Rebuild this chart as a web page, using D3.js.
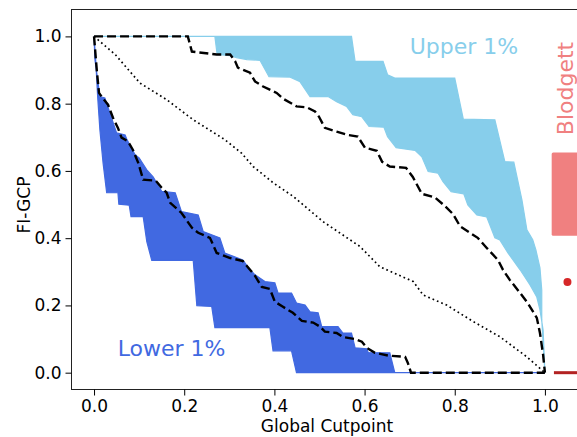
<!DOCTYPE html>
<html lang="en">
<head>
  <meta charset="UTF-8">
  <title>FI-GCP vs Global Cutpoint</title>
  <script src="https://d3js.org/d3.v7.min.js"></script>
  <style>
    body { margin: 0; background: #fff; }
    text { font-family: "DejaVu Sans", sans-serif; }
    .tick text { font-size: 17px; fill: #000; }
    .tick line { stroke: #000; }
    .domain { display: none; }
  </style>
</head>
<body>
<svg id="chart" width="577" height="437"></svg>
<script>
  // upper 1% band (skyblue): top edge and bottom edge, [cutpoint, FI-GCP]
  const upperBandTop = [
    [0, 1], [0.571, 1], [0.579, 0.926], [0.641, 0.926], [0.651, 0.886], [0.667, 0.876],
    [0.800, 0.876], [0.819, 0.754], [0.889, 0.752], [0.911, 0.628], [0.931, 0.626],
    [0.949, 0.514], [0.960, 0.425], [0.973, 0.395], [0.980, 0.365], [0.989, 0.312],
    [0.993, 0.246], [0.993, 0.157], [1, 0]
  ];
  const upperBandBottom = [
    [0, 1], [0.268, 1], [0.273, 0.946], [0.302, 0.943], [0.316, 0.937], [0.339, 0.931],
    [0.368, 0.929], [0.388, 0.880], [0.435, 0.879], [0.457, 0.865], [0.479, 0.821],
    [0.519, 0.821], [0.538, 0.806], [0.560, 0.792], [0.574, 0.767], [0.594, 0.761],
    [0.610, 0.732], [0.643, 0.730], [0.651, 0.702], [0.670, 0.669], [0.712, 0.661],
    [0.727, 0.642], [0.741, 0.598], [0.763, 0.593], [0.774, 0.568], [0.792, 0.538],
    [0.820, 0.532], [0.829, 0.499], [0.849, 0.469], [0.871, 0.463], [0.889, 0.401],
    [0.900, 0.395], [0.918, 0.356], [0.945, 0.306], [0.967, 0.261], [0.982, 0.225],
    [0.989, 0.187], [0.996, 0.127], [1, 0]
  ];

  // lower 1% band (royalblue)
  const lowerBandTop = [
    [0, 1], [0.002, 0.931], [0.013, 0.821], [0.024, 0.817], [0.050, 0.713], [0.069, 0.707],
    [0.073, 0.693], [0.091, 0.648], [0.100, 0.639], [0.117, 0.603], [0.131, 0.582],
    [0.150, 0.539], [0.180, 0.535], [0.194, 0.479], [0.231, 0.469], [0.242, 0.420],
    [0.279, 0.401], [0.290, 0.356], [0.330, 0.335], [0.346, 0.306], [0.357, 0.291],
    [0.379, 0.271], [0.401, 0.267], [0.408, 0.237], [0.438, 0.237], [0.449, 0.207],
    [0.468, 0.201], [0.479, 0.181], [0.497, 0.178], [0.505, 0.137], [0.541, 0.137],
    [0.552, 0.118], [0.571, 0.118], [0.579, 0.074], [0.605, 0.071], [0.608, 0.060],
    [0.656, 0.059], [0.667, 0], [1, 0]
  ];
  const lowerBandBottom = [
    [0, 1], [0.004, 0.922], [0.008, 0.821], [0.013, 0.722], [0.020, 0.624], [0.028, 0.535],
    [0.053, 0.535], [0.055, 0.501], [0.078, 0.498], [0.082, 0.464], [0.109, 0.464],
    [0.117, 0.390], [0.128, 0.334], [0.220, 0.334], [0.228, 0.199], [0.261, 0.197],
    [0.268, 0.134], [0.390, 0.134], [0.397, 0.065], [0.438, 0.065], [0.449, 0], [1, 0]
  ];

  // observed curves
  const upperCurve = [
    [0, 1], [0.208, 1], [0.217, 0.955], [0.272, 0.946], [0.302, 0.946], [0.313, 0.926],
    [0.319, 0.907], [0.346, 0.892], [0.357, 0.866], [0.375, 0.851], [0.405, 0.832],
    [0.419, 0.815], [0.449, 0.792], [0.472, 0.789], [0.490, 0.777], [0.499, 0.761],
    [0.512, 0.728], [0.538, 0.717], [0.563, 0.707], [0.585, 0.702], [0.601, 0.669],
    [0.627, 0.660], [0.639, 0.627], [0.656, 0.613], [0.692, 0.609], [0.707, 0.582],
    [0.727, 0.532], [0.756, 0.521], [0.778, 0.496], [0.796, 0.472], [0.812, 0.435],
    [0.834, 0.416], [0.851, 0.401], [0.871, 0.371], [0.896, 0.335], [0.907, 0.306],
    [0.922, 0.276], [0.945, 0.237], [0.962, 0.207], [0.982, 0.163], [0.989, 0.118],
    [0.996, 0.053], [1, 0]
  ];
  const lowerCurve = [
    [0, 1], [0.006, 0.901], [0.011, 0.832], [0.020, 0.815], [0.031, 0.797], [0.042, 0.758],
    [0.053, 0.728], [0.061, 0.699], [0.075, 0.688], [0.086, 0.663], [0.098, 0.624],
    [0.109, 0.574], [0.137, 0.571], [0.150, 0.550], [0.161, 0.535], [0.169, 0.505],
    [0.194, 0.475], [0.217, 0.431], [0.231, 0.416], [0.257, 0.401], [0.272, 0.356],
    [0.302, 0.341], [0.330, 0.332], [0.346, 0.306], [0.357, 0.288], [0.372, 0.255],
    [0.390, 0.249], [0.401, 0.211], [0.419, 0.196], [0.441, 0.178], [0.461, 0.154],
    [0.486, 0.149], [0.501, 0.137], [0.512, 0.122], [0.538, 0.118], [0.552, 0.106],
    [0.579, 0.100], [0.594, 0.092], [0.605, 0.074], [0.623, 0.059], [0.652, 0.051],
    [0.690, 0.047], [0.696, 0.029], [0.703, 0], [1, 0]
  ];
  const middleCurve = [
    [0, 1], [0.047, 0.946], [0.102, 0.861], [0.161, 0.812], [0.220, 0.752], [0.290, 0.693],
    [0.327, 0.653], [0.353, 0.613], [0.398, 0.564], [0.442, 0.524], [0.508, 0.449],
    [0.590, 0.375], [0.634, 0.315], [0.708, 0.271], [0.730, 0.231], [0.782, 0.201],
    [0.841, 0.152], [0.900, 0.107], [0.959, 0.048], [1, 0]
  ];

  // Blodgett reference, drawn beside the curves at x = 1.05
  const blodgettX = 1.05;
  const blodgettRange = [0.407, 0.655];
  const blodgettPoint = 0.27;
  const blodgettFloor = 0;

  const xTicks = [0, 0.2, 0.4, 0.6, 0.8, 1.0];
  const yTicks = [0, 0.2, 0.4, 0.6, 0.8, 1.0];

  const svg = d3.select('#chart');
  const plot = { left: 71.5, top: 9.5, bottom: 389.5, right: 590 };

  const x = d3.scaleLinear().domain([-0.05, 1.1]).range([plot.left, plot.right]);
  const y = d3.scaleLinear().domain([-0.05, 1.08]).range([plot.bottom, plot.top]);

  const line = d3.line().x(d => x(d[0])).y(d => y(d[1]));

  // band outline: top edge forward, bottom edge back
  const band = (topEdge, bottomEdge) => line(topEdge.concat(bottomEdge.slice().reverse())) + 'Z';

  svg.append('path')
    .attr('d', band(upperBandTop, upperBandBottom))
    .attr('fill', '#87ceeb')
    .attr('stroke', '#87ceeb')
    .attr('stroke-width', 1.2);

  svg.append('path')
    .attr('d', band(lowerBandTop, lowerBandBottom))
    .attr('fill', '#4169e1')
    .attr('stroke', '#4169e1')
    .attr('stroke-width', 1.2);

  svg.append('path')
    .attr('d', line(middleCurve))
    .attr('fill', 'none')
    .attr('stroke', '#000')
    .attr('stroke-width', 1.7)
    .attr('stroke-dasharray', '1.7,3');

  [upperCurve, lowerCurve].forEach(c => {
    svg.append('path')
      .attr('d', line(c))
      .attr('fill', 'none')
      .attr('stroke', '#000')
      .attr('stroke-width', 2.4)
      .attr('stroke-dasharray', '9,4');
  });

  // Blodgett marks
  svg.append('rect')
    .attr('x', x(blodgettX - 0.035))
    .attr('y', y(blodgettRange[1]))
    .attr('width', x(blodgettX + 0.035) - x(blodgettX - 0.035))
    .attr('height', y(blodgettRange[0]) - y(blodgettRange[1]))
    .attr('rx', 1.5)
    .attr('fill', '#f08080');

  svg.append('circle')
    .attr('cx', x(blodgettX))
    .attr('cy', y(blodgettPoint))
    .attr('r', 4)
    .attr('fill', '#d62728');

  svg.append('line')
    .attr('x1', x(blodgettX - 0.03)).attr('x2', x(blodgettX + 0.03))
    .attr('y1', y(blodgettFloor)).attr('y2', y(blodgettFloor))
    .attr('stroke', '#b22222')
    .attr('stroke-width', 3);

  // frame
  svg.append('rect')
    .attr('x', plot.left).attr('y', plot.top)
    .attr('width', plot.right - plot.left).attr('height', plot.bottom - plot.top)
    .attr('fill', 'none')
    .attr('stroke', '#222')
    .attr('stroke-width', 1);

  // axes
  svg.append('g')
    .attr('transform', `translate(0,${plot.bottom})`)
    .call(d3.axisBottom(x).tickValues(xTicks).tickFormat(d3.format('.1f')).tickSize(6).tickPadding(4));

  svg.append('g')
    .attr('transform', `translate(${plot.left},0)`)
    .call(d3.axisLeft(y).tickValues(yTicks).tickFormat(d3.format('.1f')).tickSize(6).tickPadding(4));

  svg.append('text')
    .attr('x', 327).attr('y', 432)
    .attr('text-anchor', 'middle')
    .attr('font-size', 17)
    .text('Global Cutpoint');

  svg.append('text')
    .attr('transform', 'translate(30,205) rotate(-90)')
    .attr('text-anchor', 'middle')
    .attr('font-size', 17)
    .text('FI-GCP');

  // band labels
  svg.append('text')
    .attr('x', x(0.70)).attr('y', y(0.947))
    .attr('font-size', 22)
    .attr('fill', '#87ceeb')
    .text('Upper 1%');

  svg.append('text')
    .attr('x', x(0.0525)).attr('y', y(0.05))
    .attr('font-size', 22)
    .attr('fill', '#4169e1')
    .text('Lower 1%');

  svg.append('text')
    .attr('transform', `translate(573,${y(0.845)}) rotate(-90)`)
    .attr('text-anchor', 'middle')
    .attr('font-size', 22)
    .attr('fill', '#f08080')
    .text('Blodgett');
</script>
</body>
</html>
